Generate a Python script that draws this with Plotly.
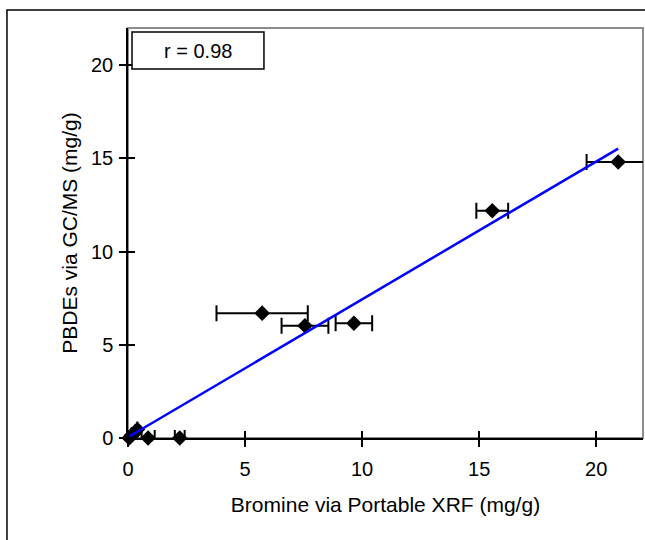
import plotly.graph_objects as go

# Data
xrf_br = [0.05, 0.15, 0.30, 0.40, 0.86, 2.21, 5.73, 7.56, 9.65, 15.56, 20.94]
gcms_pbde = [0.00, 0.15, 0.30, 0.45, 0.00, 0.00, 6.70, 6.02, 6.16, 12.19, 14.81]
xrf_err = [0.0, 0.0, 0.0, 0.0, 0.28, 0.21, 1.95, 1.00, 0.78, 0.68, 1.35]

trend_x = [0.05, 20.94]
trend_y = [0.08, 15.53]

r_text = "r = 0.98"
x_ticks = [0, 5, 10, 15, 20]
y_ticks = [0, 5, 10, 15, 20]
x_title = "Bromine via Portable XRF (mg/g)"
y_title = "PBDEs via GC/MS (mg/g)"

FONT = "Liberation Sans, Arial, sans-serif"

fig = go.Figure()
fig.add_trace(go.Scatter(
    x=xrf_br, y=gcms_pbde, mode="markers",
    marker=dict(symbol="diamond", size=12, color="black"),
    error_x=dict(type="data", array=xrf_err, color="black", thickness=2, width=8),
    cliponaxis=False, showlegend=False, hoverinfo="x+y",
))
fig.add_trace(go.Scatter(
    x=trend_x, y=trend_y, mode="lines",
    line=dict(color="#0000ff", width=2.5),
    xaxis="x2", yaxis="y2", showlegend=False,
))

axis_common = dict(showgrid=False, zeroline=False, color="black",
                   tickfont=dict(family=FONT, size=20, color="black"))

fig.update_layout(
    width=645, height=540,
    margin=dict(l=128, r=2, t=28, b=102),
    paper_bgcolor="white", plot_bgcolor="white",
    font=dict(family=FONT, color="black"),
    xaxis=dict(range=[0, 22], tickvals=x_ticks, ticks="outside", ticklen=7,
               tickwidth=1.5, tickcolor="black", showline=True, linecolor="black",
               linewidth=1.5, ticklabelstandoff=5,
               title=dict(text=x_title, font=dict(family=FONT, size=21), standoff=19),
               **axis_common),
    yaxis=dict(range=[0, 22], tickvals=y_ticks, ticks="outside", ticklen=7,
               tickwidth=1.5, tickcolor="black", showline=True, linecolor="black",
               linewidth=1.5, ticklabelstandoff=2,
               title=dict(text=y_title, font=dict(family=FONT, size=21), standoff=8),
               **axis_common),
    xaxis2=dict(range=[0, 22], tickvals=x_ticks, ticks="inside", ticklen=7,
                tickwidth=1.5, tickcolor="black", showline=False, showticklabels=False,
                overlaying="x", anchor="y2", side="bottom", showgrid=False, zeroline=False),
    yaxis2=dict(range=[0, 22], tickvals=y_ticks, ticks="inside", ticklen=7,
                tickwidth=1.5, tickcolor="black", showline=False, showticklabels=False,
                overlaying="y", anchor="x2", side="left", showgrid=False, zeroline=False),
    shapes=[
        # outer chart border
        dict(type="rect", xref="paper", yref="paper", x0=-0.235, x1=1.02, y0=-0.27, y1=1.044,
             line=dict(color="black", width=1.5), layer="below"),
        # plot area border
        dict(type="rect", xref="paper", yref="paper", x0=0, x1=1, y0=0, y1=1,
             line=dict(color="#8c8c8c", width=2), layer="below"),
        # r box
        dict(type="rect", xref="paper", yref="paper", x0=0.0078, x1=0.264, y0=0.900, y1=0.990,
             line=dict(color="black", width=1.5), fillcolor="white", layer="above"),
    ],
    annotations=[
        dict(text=r_text, xref="paper", yref="paper", x=0.136, y=0.945,
             showarrow=False, xanchor="center", yanchor="middle",
             font=dict(family=FONT, size=20, color="black")),
    ],
)

fig.write_html(
    "out.html",
    config={"displayModeBar": False},
    post_script="document.body.style.margin='0';document.documentElement.style.overflow='hidden';",
)
